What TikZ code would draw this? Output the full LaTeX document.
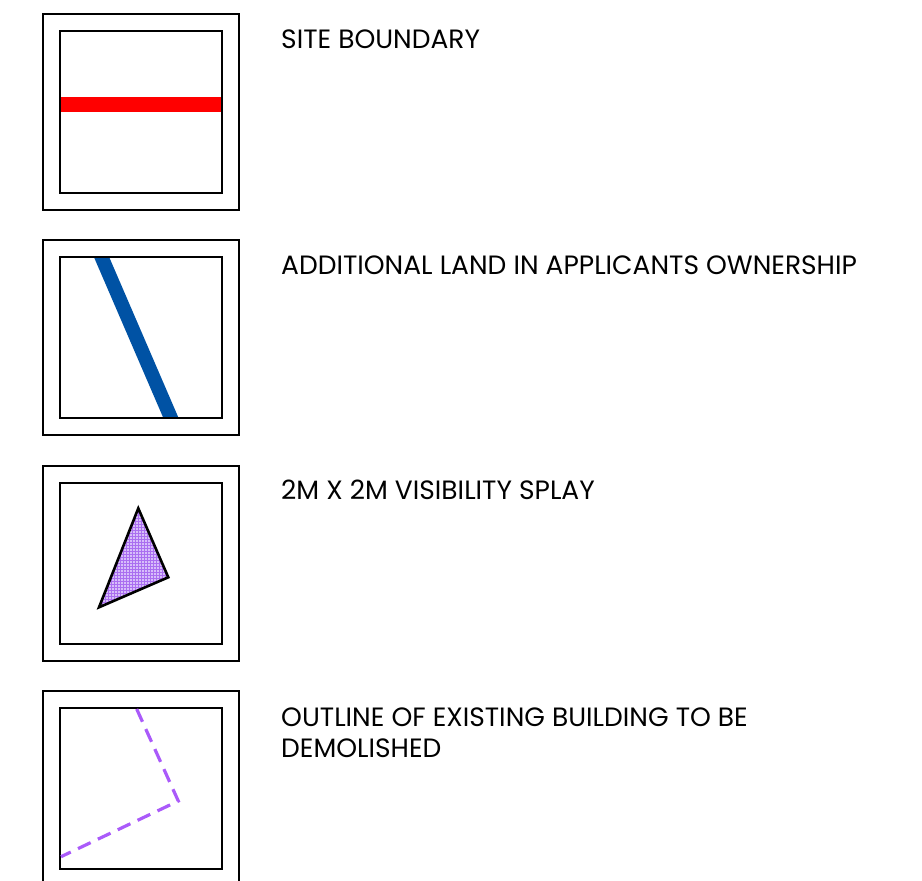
\documentclass[tikz,border=0pt]{standalone}
\usepackage{fontspec}
\setmainfont{Poppins}
\usetikzlibrary{patterns}
\definecolor{sitered}{RGB}{255,0,0}
\definecolor{landblue}{RGB}{0,82,164}
\definecolor{splayfill}{RGB}{215,190,250}
\definecolor{splaygrid}{RGB}{170,110,240}
\definecolor{demopurple}{RGB}{170,90,250}
\begin{document}
\begin{tikzpicture}[x=1pt,y=-1pt,
  outerbox/.style={draw=black,line width=1.9pt},
  innerbox/.style={draw=black,line width=1.9pt},
  legendtext/.style={anchor=base west,inner sep=0pt,font=\fontsize{26.5}{31}\selectfont,align=left}]
\useasboundingbox (0,0) rectangle (922,881);
% item 1
\draw[outerbox] (43,14) rectangle (239,210);
\draw[innerbox] (60,31) rectangle (222,193);
\fill[sitered] (61,97) rectangle (221,112);
\node[legendtext] (t1) at (281,48) {SITE BOUNDARY};
% item 2
\draw[outerbox] (43,240) rectangle (239,435);
\begin{scope}
\clip (61,258) rectangle (221,417);
\draw[landblue,line width=14pt] (98.5,250) -- (174,425);
\end{scope}
\draw[innerbox] (60,257) rectangle (222,418);
\node[legendtext] (t2) at (281,274) {ADDITIONAL LAND IN APPLICANTS OWNERSHIP};
% item 3
\draw[outerbox] (43,466) rectangle (239,661);
\draw[innerbox] (60,483) rectangle (222,644);
\coordinate (v1) at (138.3,508.3);
\coordinate (v2) at (168.3,577.3);
\coordinate (v3) at (99,607.3);
\fill[splayfill] (v1) -- (v2) -- (v3) -- cycle;
\fill[pattern=grid,pattern color=splaygrid] (v1) -- (v2) -- (v3) -- cycle;
\draw[black,line width=2.6pt,line join=miter] (v1) -- (v2) -- (v3) -- cycle;
\node[legendtext] (t3) at (281,499) {2M X 2M VISIBILITY SPLAY};
% item 4
\draw[outerbox] (43,691) rectangle (239,887);
\draw[innerbox] (60,708) rectangle (222,869);
\coordinate (d1) at (136.7,709);
\coordinate (d2) at (178.3,801);
\coordinate (d3) at (61,856.7);
\draw[demopurple,line width=3.2pt,dash pattern=on 14pt off 8pt] (d1) -- (d2) -- (d3);
\node[legendtext] (t4) at (281,757) {OUTLINE OF EXISTING BUILDING TO BE\\DEMOLISHED};
\end{tikzpicture}
\end{document}
